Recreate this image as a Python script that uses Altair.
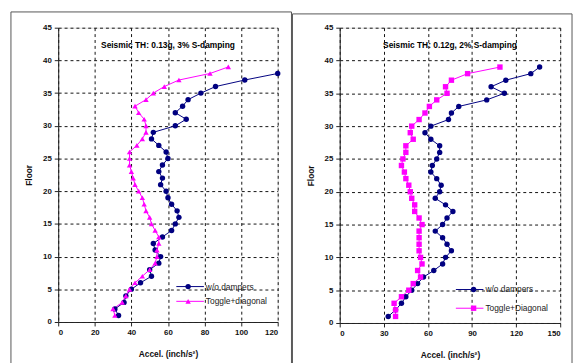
import altair as alt
import pandas as pd

# ---------------- data ----------------
floors_L_blue = list(range(1, 39))
left_blue = [33, 31, 36, 37, 40, 45, 51, 50, 55, 56, 53, 52, 57, 62, 64, 66, 65, 62, 60, 59,
             56, 57, 55, 57, 60, 59, 55, 51, 52, 64, 70, 64, 68, 71, 78, 86, 102, 120]
floors_L_mag = list(range(1, 40))
left_mag = [31, 30, 35, 37, 39, 42, 46, 50, 53, 54, 54, 55, 55, 53, 51, 50, 48, 47, 46, 44,
            42, 41, 40, 39, 39, 39, 43, 46, 48, 48, 47, 44, 42, 48, 52, 58, 66, 83, 93]

floors_R = list(range(1, 40))
right_blue = [33, 38, 42, 45, 49, 53, 57, 64, 70, 72, 76, 73, 70, 65, 70, 73, 77, 72, 65, 68,
              69, 66, 62, 63, 66, 68, 68, 62, 58, 62, 74, 76, 81, 100, 112, 103, 113, 130, 136]
right_mag = [38, 38, 37, 42, 47, 50, 55, 53, 56, 55, 54, 54, 54, 54, 56, 54, 51, 51, 49, 48,
             47, 45, 44, 42, 43, 45, 45, 50, 48, 49, 54, 58, 61, 66, 73, 72, 76, 87, 109]

BLUE = "#000080"
MAG = "#FF00FF"
FONT = "Liberation Sans"
X_TITLE = "Accel. (inch/s²)"


def panel(fb, vb, fm, vm, title, names, mag_shape, xmax, xstep, w, h,
          leg, frame):
    df = pd.DataFrame({
        "floor": list(fb) + list(fm),
        "accel": list(vb) + list(vm),
        "series": [names[0]] * len(fb) + [names[1]] * len(fm),
    })
    x = alt.X("accel:Q", scale=alt.Scale(domain=[0, xmax], nice=False, zero=True),
              axis=alt.Axis(values=list(range(0, xmax + 1, xstep)), title=X_TITLE))
    y = alt.Y("floor:Q", scale=alt.Scale(domain=[0, 45], nice=False),
              axis=alt.Axis(values=list(range(0, 46, 5)), title="Floor"))
    cscale = alt.Scale(domain=names, range=[BLUE, MAG])
    sscale = alt.Scale(domain=names, range=["circle", mag_shape])
    base = alt.Chart(df)
    lines = base.mark_line(strokeWidth=1).encode(
        x=x, y=y, color=alt.Color("series:N", scale=cscale, legend=None),
        order=alt.Order("floor:Q"))
    pts = base.mark_point(filled=True, opacity=1, size=30).encode(
        x=x, y=y, color=alt.Color("series:N", scale=cscale, legend=None),
        shape=alt.Shape("series:N", scale=sscale, legend=None))
    one = pd.DataFrame({"a": [0]})
    ttl = alt.Chart(one).mark_text(text=title, font=FONT, fontSize=8.5, fontWeight="bold",
                                   color="#000", align="center", baseline="middle").encode(
        x=alt.value(w / 2), y=alt.value(18))
    layers = [lines, pts, ttl]
    # legend
    lx1, lx2, lxm, ltx, ly = leg
    for i, (nm, col, shp) in enumerate(zip(names, [BLUE, MAG], ["circle", mag_shape])):
        yy = ly[i]
        layers.append(alt.Chart(one).mark_rule(color=col, strokeWidth=1).encode(
            x=alt.value(lx1), x2=alt.value(lx2), y=alt.value(yy)))
        layers.append(alt.Chart(one).mark_point(shape=shp, filled=True, opacity=1, size=30,
                                                color=col).encode(
            x=alt.value(lxm), y=alt.value(yy)))
        layers.append(alt.Chart(one).mark_text(text=nm, font=FONT, fontSize=8.5, align="left",
                                               baseline="middle", color="#222").encode(
            x=alt.value(ltx), y=alt.value(yy)))
    # outer chart-area frame
    fx1, fx2, fy1 = frame
    layers.append(alt.Chart(one).mark_rule(color="#555", strokeWidth=1).encode(
        x=alt.value(fx1), x2=alt.value(fx2), y=alt.value(fy1)))
    layers.append(alt.Chart(one).mark_rule(color="#555", strokeWidth=1).encode(
        x=alt.value(fx1), y=alt.value(fy1), y2=alt.value(h + 60)))
    layers.append(alt.Chart(one).mark_rule(color="#555", strokeWidth=1).encode(
        x=alt.value(fx2), y=alt.value(fy1), y2=alt.value(h + 60)))
    return alt.layer(*layers).properties(width=w, height=h)


left = panel(floors_L_blue, left_blue, floors_L_mag, left_mag,
             "Seismic TH: 0.13g, 3% S-damping", ["w/o dampers", "Toggle+diagonal"],
             "triangle-up", 120, 20, 223, 299,
             (120, 148, 132, 150, [263, 278]), (-48, 237, -16))
right = panel(floors_R, right_blue, floors_R, right_mag,
              "Seismic TH: 0.12g, 2% S-damping", ["w/o dampers", "Toggle+Diagonal"],
              "square", 150, 30, 224, 300,
              (118, 146, 136, 148, [266, 285]), (-48, 236, -14))

chart = alt.hconcat(left, right, spacing=63, bounds="flush").resolve_scale(
    color="independent", shape="independent"
).properties(
    padding={"left": 2, "top": 0, "right": 0, "bottom": 0},
).configure_view(stroke="#888", strokeWidth=1, fill="white").configure(
    background="white"
).configure_axis(
    labelFont=FONT, labelFontSize=8, labelFontWeight="bold", labelColor="#111",
    titleFont=FONT, titleFontSize=8.5, titleFontWeight="bold", titleColor="#111",
    domainColor="#222", tickColor="#222", tickSize=4, labelPadding=3,
    grid=True, gridColor="#111", gridDash=[3, 3], gridWidth=1,
).configure_axisY(titlePadding=9).configure_axisX(titlePadding=13)

chart.save("out.html", embed_options={"renderer": "svg", "actions": False})
